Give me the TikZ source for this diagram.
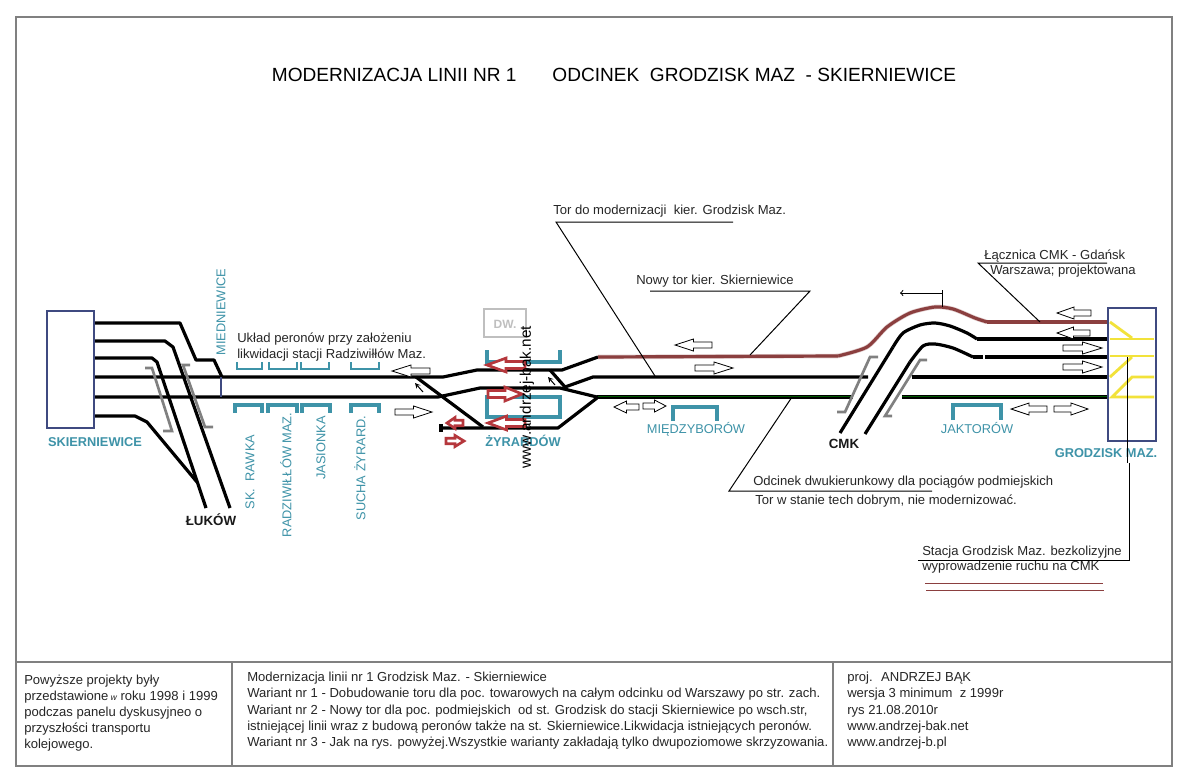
\documentclass[tikz,border=0pt]{standalone}
\usepackage{fontspec}
\setmainfont{Liberation Sans}
\definecolor{frame}{HTML}{808080}
\definecolor{stationblue}{HTML}{3F4A80}
\definecolor{platform}{HTML}{3E93A8}
\definecolor{newtrack}{HTML}{8B3F3F}
\definecolor{arrowred}{HTML}{B5373C}
\definecolor{yardline}{HTML}{F2E23A}
\tikzset{
  track/.style={line width=2.4pt,line join=round},
  newrail/.style={track,draw=newtrack,preaction={draw=newtrack!25,line width=3.4pt}},
  spur/.style={line width=2pt,draw=frame,line join=miter},
  peron/.style={line width=2.6pt,draw=platform,line join=miter},
  peronthin/.style={peron,line width=1.9pt},
  leader/.style={line width=0.75pt},
  yard/.style={line width=2.1pt,draw=yardline},
  whitearrow/.style={draw=black,fill=white,line width=0.6pt},
  redarrow/.style={draw=arrowred,fill=white,line width=2pt,line join=miter,yscale=1.15},
  redsmall/.style={redarrow,yscale=0.8},
  note/.style={font=\fontsize{9.8}{11}\selectfont,anchor=west,inner sep=0pt,text=black!85},
  foot/.style={font=\fontsize{9.8}{11}\selectfont,anchor=west,inner sep=0pt,text=black!85},
  stacja/.style={font=\fontsize{9.6}{11}\selectfont,text=platform,inner sep=0pt},
  stacjabold/.style={stacja,font=\fontsize{9.6}{11}\bfseries\selectfont},
  junction/.style={font=\fontsize{10}{11}\bfseries\selectfont,inner sep=0pt,text=black!90}
}
% tip x, y, length, direction (1 right, -1 left)
\newcommand{\blockarrow}[5][whitearrow]{
  \draw[shift={(#2,#3)},xscale=#5,#1] (0,0) -- ({-0.5*#4},-6) -- ({-0.5*#4},-3) -- (-#4,-3)
    -- (-#4,3) -- ({-0.5*#4},3) -- ({-0.5*#4},6) -- cycle;
}
\begin{document}
\begin{tikzpicture}[x=0.75pt,y=-0.75pt]
  \useasboundingbox (0,0) rectangle (1191,782);
  \fill[white] (0,0) rectangle (1191,782);
  \draw[frame,line width=2.2pt] (16,17) rectangle (1172,766);
  \draw[frame,line width=2.2pt] (16,662) -- (1172,662);
  \draw[frame,line width=2.2pt] (232,662) -- (232,766);
  \draw[frame,line width=2.2pt] (833,662) -- (833,766);

  \node[anchor=center,inner sep=0pt,font=\fontsize{14.3}{16}\selectfont] (title) at (614,75)
    {MODERNIZACJA LINII NR 1 \hspace{19pt} ODCINEK \ GRODZISK MAZ \ - SKIERNIEWICE};

  \draw[track] (94,323) -- (180,323) -- (196,360) -- (214,360) -- (222,377);
  \draw[track] (94,341) -- (165,341) -- (173,347) -- (230,508);
  \draw[track] (94,358) -- (152,358) -- (157,362) -- (206,508);
  \draw[track] (94,416) -- (135,416) -- (147,422) -- (197,482);
  \draw[track] (94,377) -- (443,377) -- (477,370) -- (562,370) -- (598,357);
  \draw[track] (94,397) -- (438,397) -- (480,388) -- (560,388) -- (597,397);
  \draw[track] (550,370) -- (565,387) -- (593,377) -- (868,377);
  \draw[track] (912,377) -- (1108,377);
  \draw[track] (416,377) -- (483,427);
  \draw[track] (441,428) -- (558,428) -- (597,398);
  \draw[track] (441,424) -- (441,432);
  \draw[track] (597,397) -- (853,397);
  \draw[track] (902,397) -- (1108,397);
  \draw[draw=green!35!black,line width=0.6pt] (598,396) -- (853,396);
  \draw[draw=green!35!black,line width=0.6pt] (902,396) -- (1108,396);
  \draw[stationblue,line width=1.8pt] (221,377) -- (221,397);

  \draw[newrail] plot[smooth,tension=0.45] coordinates {(838,356) (867,347) (887,327) (910,313) (935,307) (953,309) (975,318) (987,322)};
  \draw[newrail] (598,357) -- (838,356);
  \draw[newrail] (987,322) -- (1108,322);
  \draw[track] plot[smooth,tension=0.45] coordinates {(977,339) (967,333) (950,326) (935,323) (920,325) (903,333) (893,347)};
  \draw[track] (977,339) -- (1108,339);
  \draw[track] (893,347) -- (840,433);
  \draw[track] plot[smooth,tension=0.45] coordinates {(973,357) (953,348) (935,344) (923,346) (910,362)};
  \draw[track] (973,357) -- (983,357);
  \draw[track] (985,357) -- (1108,357);
  \draw[track] (910,362) -- (865,434);

  \draw[spur] (145,368) -- (152,368) -- (172,431) -- (163,431);
  \draw[spur] (190,365) -- (183,365) -- (205,427) -- (213,427);
  \draw[spur] (878,357) -- (870,357) -- (845,412) -- (837,412);
  \draw[spur] (927,360) -- (920,360) -- (885,416) -- (892,416);

  \foreach \xa/\xb in {237/262,269/297,301/329,351/379}
    \draw[peronthin] (\xa,362) -- (\xa,369) -- (\xb,369) -- (\xb,362);
  \foreach \xa/\xb in {235/262,268/297,302/330,351/379}
    \draw[peron] (\xa,413) -- (\xa,405) -- (\xb,405) -- (\xb,413);
  \draw[peron] (487,350) -- (487,362) -- (560,362) -- (560,350);
  \draw[peron] (487,397) rectangle (560,417);
  \draw[peron] (673,421) -- (673,407) -- (717,407) -- (717,421);
  \draw[peron] (953,420) -- (953,405) -- (1001,405) -- (1001,420);

  \draw[draw=black!25,line width=2pt] (484,309) rectangle (526,337);
  \node[font=\fontsize{9}{11}\bfseries\selectfont,text=black!25,inner sep=0pt] (dw) at (505,324) {DW.};

  \blockarrow{392}{371}{38}{-1}
  \blockarrow{432}{412}{37}{1}
  \blockarrow{675}{345}{37}{-1}
  \blockarrow{733}{368}{38}{1}
  \blockarrow{614}{407}{25}{-1}
  \blockarrow{666}{406}{23}{1}
  \blockarrow{1011}{409}{36}{-1}
  \blockarrow{1088}{409}{34}{1}
  \blockarrow{1057}{313}{34}{-1}
  \blockarrow{1057}{333}{33}{-1}
  \blockarrow{1102}{348}{39}{1}
  \blockarrow{1102}{367}{39}{1}
  \blockarrow[redarrow]{487}{365}{38}{-1}
  \blockarrow[redarrow]{522}{394}{34}{1}
  \blockarrow[redarrow]{488}{423}{37}{-1}
  \blockarrow[redsmall]{447}{423}{16}{-1}
  \blockarrow[redsmall]{464}{441}{18}{1}

  \draw[leader,->,>=stealth] (423,392) -- (415,383);
  \draw[leader,->,>=stealth] (555,385) -- (548,377);
  \draw[leader] (942,290) -- (942,307);
  \draw[leader,->,>=to] (942,293) -- (900,293);

  \draw[stationblue,line width=2.1pt] (47,311) rectangle (94,428);
  \draw[stationblue,line width=2.1pt] (1108,308) rectangle (1156,441);

  \draw[yard] (1110,322) -- (1132,338);
  \draw[yard] (1110,339) -- (1154,339);
  \draw[yard] (1110,356) -- (1154,356);
  \draw[yard] (1110,377) -- (1132,357);
  \draw[yard] (1154,377) -- (1132,377) -- (1112,397) -- (1154,397);

  \node[stacjabold] (skierniewice) at (95,442) {SKIERNIEWICE};
  \node[stacjabold] (zyrardow) at (523,441) {ŻYRARDÓW};
  \node[stacjabold] (grodzisk) at (1106,453) {GRODZISK MAZ.};
  \node[stacja] (miedzyborow) at (696,429) {MIĘDZYBORÓW};
  \node[stacja] (jaktorow) at (977,428) {JAKTORÓW};
  \node[stacja,rotate=90] (miedniewice) at (221,312) {MIEDNIEWICE};
  \node[stacja,rotate=90] (rawka) at (250,472) {SK. \ RAWKA};
  \node[stacja,rotate=90] (radziwillow) at (286,475) {RADZIWIŁŁÓW MAZ.};
  \node[stacja,rotate=90] (jasionka) at (321,448) {JASIONKA};
  \node[stacja,rotate=90] (sucha) at (360,468) {SUCHA ŻYRARD.};
  \node[junction] (lukow) at (211,520) {ŁUKÓW};
  \node[junction] (cmk) at (844,444) {CMK};

  \node[rotate=90,inner sep=0pt,font=\fontsize{11.5}{13}\selectfont] (www) at (527,397) {www.andrzej-bak.net};

  \node[note] (uklad) at (237,339) {Układ peronów przy założeniu};
  \node[note] (likwidacja) at (237,355) {likwidacji stacji Radziwiłłów Maz.};
  \node[note] (tordo) at (553,211) {Tor do modernizacji \ kier. Grodzisk Maz.};
  \node[note] (nowytor) at (636,281) {Nowy tor kier. Skierniewice};
  \node[note] (lacznica) at (984,256) {Łącznica CMK - Gdańsk};
  \node[note] (warszawa) at (990,271) {Warszawa; projektowana};
  \node[note] (odcinek) at (753,482) {Odcinek dwukierunkowy dla pociągów podmiejskich};
  \node[note] (stan) at (755,501) {Tor w stanie tech dobrym, nie modernizować.};
  \node[note] (stacjagm) at (922,552) {Stacja Grodzisk Maz. bezkolizyjne};
  \node[note] (wyprow) at (922,567) {wyprowadzenie ruchu na CMK};

  \draw[leader] (733,222) -- (556,222) -- (655,376);
  \draw[leader] (650,291) -- (810,291) -- (750,355);
  \draw[leader] (1107,263) -- (978,263) -- (1040,322);
  \draw[leader] (792,397) -- (729,491) -- (932,491);
  \draw[leader] (1127,357) -- (1127,463);
  \draw[leader] (1129,463) -- (1129,560) -- (918,560);
  \draw[newtrack,line width=0.7pt] (925,583) -- (1103,583);
  \draw[newtrack,line width=0.7pt] (926,590) -- (1104,590);

  \node[foot] (powyzsze) at (24,681) {Powyższe projekty były};
  \node[foot] (przedst) at (24,697) {przedstawione\,{\fontsize{6.5}{7}\selectfont\itshape w} roku 1998 i 1999};
  \node[foot] (panel) at (24,713) {podczas panelu dyskusyjneo o};
  \node[foot] (przyszlosc) at (24,729) {przyszłości transportu};
  \node[foot] (kolej) at (24,745) {kolejowego.};

  \node[foot] (wstep) at (247,678) {Modernizacja linii nr 1 Grodzisk Maz. - Skierniewice};
  \node[foot] (war1) at (247,694) {Wariant nr 1 - Dobudowanie toru dla poc. towarowych na całym odcinku od Warszawy po str. zach.};
  \node[foot] (war2) at (247,711) {Wariant nr 2 - Nowy tor dla poc. podmiejskich \ od st. Grodzisk do stacji Skierniewice po wsch.str,};
  \node[foot] (war2b) at (247,727) {istniejącej linii wraz z budową peronów także na st. Skierniewice.Likwidacja istniejących peronów.};
  \node[foot] (war3) at (247,743) {Wariant nr 3 - Jak na rys. powyżej.Wszystkie warianty zakładają tylko dwupoziomowe skrzyzowania.};

  \node[foot] (proj) at (847,678) {proj. \ ANDRZEJ BĄK};
  \node[foot] (wersja) at (847,694) {wersja 3 minimum \ z 1999r};
  \node[foot] (rys) at (847,711) {rys 21.08.2010r};
  \node[foot] (www1) at (847,727) {www.andrzej-bak.net};
  \node[foot] (www2) at (847,743) {www.andrzej-b.pl};
\end{tikzpicture}
\end{document}
